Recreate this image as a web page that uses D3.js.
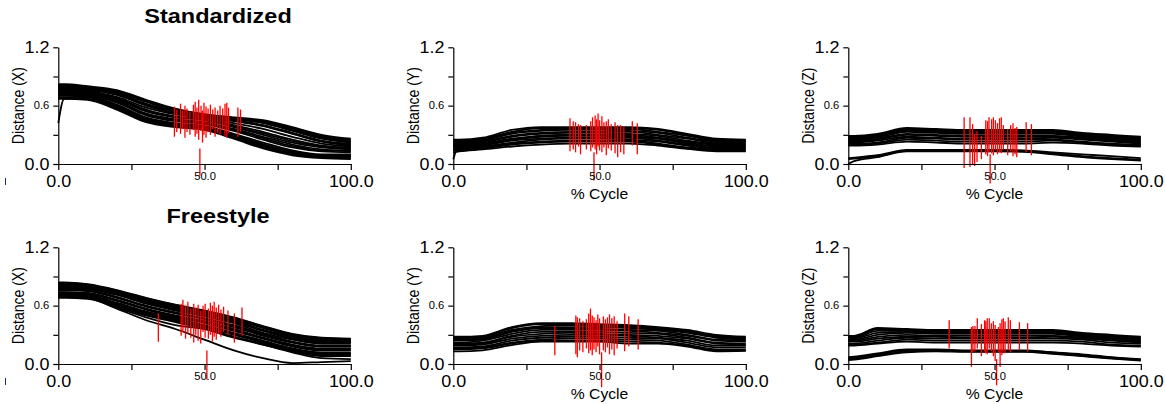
<!DOCTYPE html>
<html>
<head>
<meta charset="utf-8">
<script src="https://cdn.jsdelivr.net/npm/d3@7"></script>
<style>
  body { margin: 0; background: #fff; }
  svg text { font-family: "Liberation Sans", Arial, sans-serif; fill: #000; }
</style>
</head>
<body>
<svg id="chart"></svg>
<script>
// % of cycle where each trial value was read
const pct = [0, 2, 10, 20, 30, 40, 50, 60, 70, 80, 90, 100];

// Standardized - X
const stdX = [
    [0.82, 0.82, 0.80, 0.76, 0.66, 0.57, 0.51, 0.48, 0.45, 0.38, 0.30, 0.26],
    [0.81, 0.81, 0.79, 0.75, 0.65, 0.56, 0.51, 0.47, 0.44, 0.37, 0.29, 0.25],
    [0.805, 0.805, 0.79, 0.745, 0.645, 0.555, 0.505, 0.47, 0.435, 0.36, 0.28, 0.24],
    [0.80, 0.80, 0.79, 0.74, 0.64, 0.55, 0.50, 0.47, 0.43, 0.35, 0.27, 0.23],
    [0.79, 0.79, 0.78, 0.73, 0.62, 0.54, 0.50, 0.46, 0.42, 0.34, 0.26, 0.22],
    [0.78, 0.78, 0.77, 0.72, 0.61, 0.53, 0.49, 0.45, 0.40, 0.32, 0.24, 0.20],
    [0.775, 0.775, 0.765, 0.715, 0.605, 0.525, 0.485, 0.445, 0.395, 0.315, 0.235, 0.21],
    [0.77, 0.77, 0.76, 0.71, 0.60, 0.52, 0.48, 0.44, 0.39, 0.31, 0.23, 0.19],
    [0.76, 0.76, 0.75, 0.69, 0.58, 0.51, 0.47, 0.42, 0.36, 0.28, 0.21, 0.18],
    [0.75, 0.75, 0.74, 0.68, 0.56, 0.49, 0.46, 0.40, 0.33, 0.25, 0.19, 0.17],
    [0.745, 0.745, 0.735, 0.67, 0.55, 0.485, 0.455, 0.39, 0.315, 0.235, 0.18, 0.16],
    [0.74, 0.74, 0.73, 0.66, 0.54, 0.48, 0.45, 0.38, 0.30, 0.22, 0.17, 0.15],
    [0.73, 0.73, 0.72, 0.65, 0.52, 0.46, 0.43, 0.36, 0.28, 0.20, 0.15, 0.13],
    [0.725, 0.725, 0.715, 0.64, 0.51, 0.45, 0.42, 0.35, 0.265, 0.185, 0.14, 0.14],
    [0.72, 0.72, 0.71, 0.63, 0.50, 0.44, 0.41, 0.34, 0.25, 0.17, 0.13, 0.12],
    [0.71, 0.71, 0.70, 0.61, 0.48, 0.42, 0.39, 0.31, 0.22, 0.14, 0.10, 0.10],
    [0.705, 0.705, 0.695, 0.60, 0.47, 0.41, 0.38, 0.30, 0.205, 0.13, 0.09, 0.09],
    [0.70, 0.70, 0.69, 0.59, 0.46, 0.40, 0.37, 0.29, 0.19, 0.12, 0.08, 0.08],
    [0.685, 0.685, 0.675, 0.58, 0.45, 0.395, 0.365, 0.28, 0.18, 0.11, 0.075, 0.07],
    [0.68, 0.68, 0.67, 0.57, 0.44, 0.39, 0.36, 0.27, 0.17, 0.10, 0.07, 0.06],
    [0.67, 0.67, 0.66, 0.56, 0.43, 0.38, 0.35, 0.26, 0.16, 0.09, 0.06, 0.05],
    [0.42, 0.67, 0.68, 0.60, 0.47, 0.41, 0.38, 0.30, 0.20, 0.12, 0.09, 0.08]
];
// Standardized - Y
const stdY = [
    [0.25, 0.25, 0.27, 0.35, 0.38, 0.38, 0.38, 0.38, 0.36, 0.31, 0.26, 0.25],
    [0.24, 0.24, 0.26, 0.33, 0.37, 0.37, 0.37, 0.37, 0.35, 0.30, 0.25, 0.24],
    [0.23, 0.23, 0.25, 0.32, 0.35, 0.36, 0.36, 0.36, 0.33, 0.29, 0.24, 0.24],
    [0.22, 0.22, 0.24, 0.31, 0.34, 0.35, 0.35, 0.34, 0.32, 0.27, 0.23, 0.23],
    [0.21, 0.21, 0.23, 0.29, 0.32, 0.33, 0.33, 0.33, 0.30, 0.26, 0.22, 0.22],
    [0.20, 0.20, 0.22, 0.28, 0.31, 0.32, 0.32, 0.31, 0.29, 0.24, 0.21, 0.21],
    [0.19, 0.19, 0.21, 0.26, 0.29, 0.30, 0.30, 0.30, 0.27, 0.23, 0.20, 0.20],
    [0.18, 0.18, 0.20, 0.25, 0.28, 0.29, 0.29, 0.28, 0.26, 0.21, 0.19, 0.19],
    [0.17, 0.17, 0.19, 0.24, 0.26, 0.27, 0.27, 0.27, 0.24, 0.20, 0.17, 0.17],
    [0.16, 0.16, 0.18, 0.22, 0.25, 0.26, 0.26, 0.25, 0.23, 0.19, 0.16, 0.16],
    [0.15, 0.15, 0.17, 0.21, 0.23, 0.24, 0.24, 0.24, 0.21, 0.17, 0.15, 0.15],
    [0.14, 0.14, 0.16, 0.20, 0.22, 0.23, 0.23, 0.23, 0.20, 0.16, 0.14, 0.14],
    [0.12, 0.13, 0.15, 0.18, 0.20, 0.21, 0.21, 0.21, 0.19, 0.155, 0.13, 0.13],
    [0.05, 0.19, 0.20, 0.25, 0.29, 0.30, 0.30, 0.29, 0.26, 0.22, 0.18, 0.18]
];
// Standardized - Z
const stdZ = [
    [0.29, 0.29, 0.31, 0.37, 0.36, 0.35, 0.35, 0.35, 0.35, 0.32, 0.30, 0.28],
    [0.28, 0.28, 0.30, 0.36, 0.35, 0.34, 0.34, 0.34, 0.34, 0.31, 0.29, 0.27],
    [0.27, 0.27, 0.29, 0.35, 0.34, 0.33, 0.33, 0.33, 0.33, 0.30, 0.28, 0.26],
    [0.26, 0.26, 0.28, 0.34, 0.33, 0.32, 0.32, 0.32, 0.32, 0.29, 0.27, 0.25],
    [0.25, 0.25, 0.27, 0.33, 0.32, 0.31, 0.31, 0.31, 0.31, 0.28, 0.26, 0.24],
    [0.24, 0.24, 0.26, 0.31, 0.30, 0.29, 0.29, 0.29, 0.29, 0.27, 0.25, 0.23],
    [0.23, 0.23, 0.25, 0.30, 0.29, 0.28, 0.28, 0.28, 0.28, 0.26, 0.24, 0.22],
    [0.22, 0.22, 0.24, 0.28, 0.27, 0.26, 0.26, 0.26, 0.27, 0.25, 0.23, 0.21],
    [0.21, 0.21, 0.22, 0.27, 0.26, 0.25, 0.25, 0.25, 0.25, 0.23, 0.21, 0.20],
    [0.20, 0.20, 0.21, 0.25, 0.24, 0.23, 0.23, 0.23, 0.24, 0.22, 0.20, 0.19],
    [0.19, 0.19, 0.20, 0.23, 0.22, 0.21, 0.21, 0.21, 0.22, 0.21, 0.19, 0.18],
    [0.06, 0.065, 0.09, 0.145, 0.145, 0.145, 0.145, 0.14, 0.12, 0.10, 0.08, 0.06],
    [0.05, 0.055, 0.08, 0.135, 0.135, 0.135, 0.135, 0.13, 0.11, 0.08, 0.06, 0.045],
    [0.00, 0.03, 0.07, 0.13, 0.13, 0.13, 0.13, 0.125, 0.10, 0.07, 0.05, 0.035]
];
// Freestyle - X
const freeX = [
    [0.84, 0.84, 0.82, 0.76, 0.68, 0.61, 0.55, 0.48, 0.39, 0.31, 0.27, 0.26],
    [0.835, 0.835, 0.815, 0.755, 0.675, 0.605, 0.545, 0.475, 0.385, 0.305, 0.265, 0.255],
    [0.83, 0.83, 0.81, 0.75, 0.67, 0.60, 0.54, 0.47, 0.38, 0.30, 0.26, 0.25],
    [0.82, 0.82, 0.80, 0.74, 0.66, 0.59, 0.53, 0.46, 0.37, 0.29, 0.25, 0.24],
    [0.81, 0.81, 0.79, 0.73, 0.65, 0.58, 0.52, 0.45, 0.35, 0.28, 0.24, 0.23],
    [0.80, 0.80, 0.785, 0.725, 0.64, 0.57, 0.51, 0.44, 0.345, 0.27, 0.23, 0.225],
    [0.79, 0.79, 0.78, 0.72, 0.63, 0.56, 0.50, 0.43, 0.34, 0.26, 0.22, 0.22],
    [0.78, 0.78, 0.77, 0.71, 0.62, 0.55, 0.49, 0.42, 0.32, 0.25, 0.21, 0.21],
    [0.77, 0.77, 0.76, 0.69, 0.60, 0.53, 0.47, 0.40, 0.31, 0.23, 0.19, 0.19],
    [0.765, 0.765, 0.755, 0.685, 0.595, 0.525, 0.465, 0.39, 0.30, 0.225, 0.185, 0.185],
    [0.76, 0.76, 0.75, 0.68, 0.59, 0.52, 0.46, 0.38, 0.29, 0.22, 0.18, 0.18],
    [0.74, 0.74, 0.73, 0.66, 0.57, 0.50, 0.44, 0.36, 0.27, 0.20, 0.16, 0.16],
    [0.735, 0.735, 0.725, 0.655, 0.565, 0.49, 0.43, 0.35, 0.265, 0.19, 0.15, 0.15],
    [0.73, 0.73, 0.72, 0.65, 0.56, 0.48, 0.42, 0.34, 0.26, 0.18, 0.14, 0.14],
    [0.72, 0.72, 0.71, 0.63, 0.54, 0.47, 0.40, 0.32, 0.24, 0.16, 0.12, 0.12],
    [0.71, 0.71, 0.70, 0.62, 0.53, 0.46, 0.39, 0.31, 0.23, 0.155, 0.11, 0.11],
    [0.70, 0.70, 0.69, 0.61, 0.52, 0.45, 0.38, 0.30, 0.22, 0.15, 0.10, 0.10],
    [0.69, 0.69, 0.68, 0.60, 0.51, 0.44, 0.37, 0.28, 0.21, 0.14, 0.09, 0.09],
    [0.68, 0.68, 0.67, 0.59, 0.50, 0.43, 0.36, 0.27, 0.20, 0.13, 0.08, 0.08],
    [0.69, 0.69, 0.68, 0.58, 0.48, 0.40, 0.36, 0.28, 0.20, 0.12, 0.06, 0.05],
    [0.70, 0.70, 0.68, 0.57, 0.45, 0.36, 0.25, 0.14, 0.06, 0.01, 0.02, 0.03]
];
// Freestyle - Y
const freeY = [
    [0.28, 0.28, 0.29, 0.38, 0.42, 0.42, 0.41, 0.40, 0.38, 0.35, 0.30, 0.28],
    [0.27, 0.27, 0.28, 0.37, 0.41, 0.41, 0.40, 0.39, 0.37, 0.34, 0.29, 0.27],
    [0.26, 0.26, 0.27, 0.35, 0.39, 0.40, 0.39, 0.38, 0.36, 0.33, 0.28, 0.26],
    [0.25, 0.25, 0.26, 0.34, 0.38, 0.38, 0.38, 0.37, 0.35, 0.32, 0.27, 0.25],
    [0.24, 0.24, 0.25, 0.33, 0.37, 0.37, 0.36, 0.35, 0.34, 0.30, 0.25, 0.24],
    [0.22, 0.22, 0.24, 0.31, 0.35, 0.35, 0.35, 0.34, 0.32, 0.29, 0.24, 0.23],
    [0.21, 0.21, 0.22, 0.29, 0.33, 0.33, 0.33, 0.32, 0.31, 0.27, 0.22, 0.21],
    [0.20, 0.20, 0.21, 0.28, 0.31, 0.32, 0.31, 0.30, 0.29, 0.26, 0.21, 0.20],
    [0.19, 0.19, 0.20, 0.26, 0.29, 0.30, 0.30, 0.29, 0.27, 0.24, 0.19, 0.19],
    [0.17, 0.17, 0.18, 0.24, 0.27, 0.28, 0.28, 0.27, 0.26, 0.22, 0.17, 0.17],
    [0.16, 0.16, 0.17, 0.22, 0.25, 0.26, 0.26, 0.25, 0.24, 0.20, 0.15, 0.15],
    [0.15, 0.15, 0.16, 0.21, 0.24, 0.24, 0.24, 0.23, 0.22, 0.19, 0.14, 0.14],
    [0.13, 0.13, 0.14, 0.195, 0.23, 0.23, 0.23, 0.21, 0.21, 0.18, 0.13, 0.135]
];
// Freestyle - Z
const freeZ = [
    [0.29, 0.29, 0.37, 0.36, 0.35, 0.35, 0.35, 0.35, 0.35, 0.32, 0.30, 0.28],
    [0.28, 0.28, 0.36, 0.35, 0.34, 0.34, 0.34, 0.34, 0.34, 0.31, 0.29, 0.27],
    [0.27, 0.27, 0.34, 0.34, 0.33, 0.33, 0.33, 0.33, 0.33, 0.30, 0.28, 0.26],
    [0.26, 0.26, 0.32, 0.33, 0.32, 0.32, 0.32, 0.32, 0.32, 0.29, 0.27, 0.25],
    [0.25, 0.25, 0.30, 0.32, 0.31, 0.31, 0.31, 0.31, 0.31, 0.28, 0.26, 0.24],
    [0.24, 0.24, 0.28, 0.30, 0.29, 0.29, 0.29, 0.29, 0.29, 0.27, 0.25, 0.23],
    [0.23, 0.23, 0.26, 0.28, 0.28, 0.27, 0.27, 0.27, 0.28, 0.26, 0.24, 0.22],
    [0.21, 0.21, 0.24, 0.27, 0.26, 0.26, 0.26, 0.26, 0.26, 0.25, 0.22, 0.21],
    [0.20, 0.20, 0.22, 0.25, 0.24, 0.24, 0.24, 0.24, 0.24, 0.23, 0.20, 0.19],
    [0.19, 0.19, 0.21, 0.23, 0.22, 0.22, 0.22, 0.22, 0.22, 0.21, 0.19, 0.18],
    [0.07, 0.075, 0.11, 0.15, 0.15, 0.14, 0.14, 0.14, 0.12, 0.10, 0.07, 0.05],
    [0.06, 0.065, 0.10, 0.14, 0.145, 0.135, 0.135, 0.135, 0.12, 0.09, 0.065, 0.045],
    [0.05, 0.055, 0.09, 0.13, 0.14, 0.13, 0.13, 0.13, 0.11, 0.085, 0.06, 0.04],
    [0.04, 0.045, 0.08, 0.12, 0.13, 0.125, 0.125, 0.125, 0.105, 0.08, 0.055, 0.035]
];

// red event markers: [% cycle, low, high]
const stdXEvents = [
    [39.7, 0.28, 0.59], [40.5, 0.33, 0.56], [41.8, 0.31, 0.62], [42.5, 0.36, 0.55],
    [43.3, 0.27, 0.60], [44.0, 0.33, 0.57], [45.0, 0.30, 0.54], [46.2, 0.35, 0.61],
    [46.8, 0.28, 0.64], [47.4, 0.31, 0.58], [48.0, 0.25, 0.66], [48.4, -0.12, 0.16],
    [48.8, 0.34, 0.60], [49.3, 0.22, 0.55], [49.8, 0.30, 0.63], [50.5, 0.27, 0.59],
    [51.2, 0.33, 0.57], [52.0, 0.30, 0.61], [52.8, 0.36, 0.56], [53.6, 0.28, 0.58],
    [54.5, 0.32, 0.55], [55.3, 0.30, 0.60], [56.2, 0.35, 0.57], [57.0, 0.29, 0.62],
    [57.6, 0.27, 0.63], [58.2, 0.32, 0.58], [61.4, 0.28, 0.58], [62.3, 0.33, 0.56]
];
const stdYEvents = [
    [39.9, 0.13, 0.47], [41.0, 0.15, 0.44], [41.8, 0.12, 0.43], [42.8, 0.18, 0.41],
    [43.5, 0.10, 0.40], [45.5, 0.15, 0.40], [47.0, 0.13, 0.44], [47.6, 0.17, 0.48],
    [48.1, -0.17, 0.12], [48.5, 0.15, 0.50], [49.0, 0.10, 0.46], [49.5, 0.18, 0.52],
    [50.0, 0.14, 0.45], [50.8, 0.12, 0.49], [51.5, 0.17, 0.43], [52.3, 0.09, 0.44],
    [53.0, 0.16, 0.46], [54.0, 0.14, 0.41], [55.3, 0.11, 0.43], [56.2, 0.07, 0.40],
    [57.2, 0.12, 0.40], [58.3, 0.10, 0.38], [61.2, 0.19, 0.44], [62.9, 0.10, 0.42]
];
const stdZEvents = [
    [39.6, -0.04, 0.48], [41.6, -0.03, 0.48], [42.5, 0.00, 0.41], [43.2, -0.02, 0.30],
    [44.0, 0.02, 0.34], [45.5, 0.05, 0.29], [47.0, 0.10, 0.45], [47.6, 0.08, 0.44],
    [48.1, 0.12, 0.48], [48.5, -0.20, 0.10], [49.0, 0.11, 0.46], [49.6, 0.09, 0.48],
    [50.3, 0.14, 0.45], [51.0, 0.10, 0.42], [51.7, 0.12, 0.47], [52.3, 0.11, 0.48],
    [53.0, 0.15, 0.40], [54.5, 0.09, 0.36], [55.5, 0.13, 0.40], [56.3, 0.08, 0.42],
    [57.0, 0.10, 0.37], [57.6, 0.07, 0.38], [60.8, 0.12, 0.43], [62.6, 0.09, 0.41]
];
const freeXEvents = [
    [34.2, 0.23, 0.52], [42.0, 0.29, 0.62], [42.6, 0.33, 0.66], [43.5, 0.26, 0.60],
    [44.3, 0.31, 0.64], [45.3, 0.27, 0.57], [46.3, 0.22, 0.62], [47.0, 0.30, 0.58],
    [47.8, 0.24, 0.61], [48.7, 0.21, 0.55], [49.5, 0.33, 0.60], [50.2, 0.27, 0.62],
    [50.8, -0.16, 0.14], [51.3, 0.26, 0.57], [52.0, 0.30, 0.63], [52.7, 0.23, 0.60],
    [53.3, 0.28, 0.64], [54.0, 0.25, 0.58], [54.8, 0.31, 0.61], [55.6, 0.28, 0.56],
    [56.5, 0.33, 0.59], [58.0, 0.30, 0.55], [60.2, 0.22, 0.52], [62.8, 0.29, 0.58]
];
const freeYEvents = [
    [34.7, 0.09, 0.39], [41.9, 0.10, 0.50], [42.4, 0.07, 0.48], [43.2, 0.14, 0.47],
    [44.3, 0.12, 0.44], [45.5, 0.16, 0.46], [46.3, 0.11, 0.52], [46.9, 0.14, 0.57],
    [47.5, 0.09, 0.50], [48.1, 0.15, 0.48], [48.8, 0.12, 0.45], [49.4, 0.18, 0.51],
    [50.0, 0.10, 0.47], [50.7, -0.24, 0.12], [51.3, 0.14, 0.49], [52.0, 0.12, 0.46],
    [52.7, 0.17, 0.48], [53.4, 0.10, 0.51], [54.2, 0.15, 0.47], [55.0, 0.09, 0.49],
    [56.0, 0.16, 0.44], [58.6, 0.13, 0.52], [60.0, 0.18, 0.49], [63.2, 0.15, 0.46]
];
const freeZEvents = [
    [34.5, 0.16, 0.45], [42.1, -0.03, 0.38], [42.6, 0.12, 0.39], [43.3, 0.13, 0.39],
    [44.1, 0.16, 0.47], [45.5, 0.08, 0.41], [46.6, 0.13, 0.45], [47.0, 0.11, 0.44],
    [47.5, 0.10, 0.47], [48.2, 0.16, 0.47], [48.9, 0.13, 0.42], [49.6, 0.08, 0.44],
    [50.2, 0.03, 0.40], [50.7, -0.22, 0.05], [51.3, 0.12, 0.38], [51.9, -0.03, 0.42],
    [52.5, 0.09, 0.46], [53.0, 0.13, 0.47], [53.6, 0.11, 0.44], [54.7, 0.14, 0.48],
    [55.4, 0.12, 0.45], [58.5, 0.14, 0.43], [61.3, 0.13, 0.42]
];

// ticks
const xTicks = [0, 25, 50, 75, 100];
const xTickLabels = {0: "0.0", 50: "50.0", 100: "100.0"};
const yTicks = [0, 0.3, 0.6, 0.9, 1.2];
const yTickLabels = {0: "0.0", 0.6: "0.6", 1.2: "1.2"};
const rowTitles = ["Standardized", "Freestyle"];
const axisNames = ["Distance (X)", "Distance (Y)", "Distance (Z)"];

const panels = [
    {row: 0, col: 0, curves: stdX, events: stdXEvents},
    {row: 0, col: 1, curves: stdY, events: stdYEvents},
    {row: 0, col: 2, curves: stdZ, events: stdZEvents},
    {row: 1, col: 0, curves: freeX, events: freeXEvents},
    {row: 1, col: 1, curves: freeY, events: freeYEvents},
    {row: 1, col: 2, curves: freeZ, events: freeZEvents}
];

// layout
let width = 1165, height = 404;
let colLeft = [58.3, 453.3, 848.3];
let rowTop = [47.3, 247.3];
let plotW = 292.5, plotH = 116.7;
let stretch = 1.12; // the original lettering is slightly wide

let svg = d3.select("#chart")
    .attr("width", width)
    .attr("height", height)
    .style("background", "#fff");

let xScale = d3.scaleLinear().domain([0, 100]).range([0, plotW]);
let yScale = d3.scaleLinear().domain([0, 1.2]).range([plotH, 0]);

let line = d3.line()
    .x((d, i) => xScale(pct[i]))
    .y(d => yScale(d))
    .curve(d3.curveMonotoneX);

panels.forEach(p => {
    let g = svg.append("g")
        .attr("transform", `translate(${colLeft[p.col]},${rowTop[p.row]})`);

    g.selectAll(".trial")
        .data(p.curves)
        .enter()
        .append("path")
        .attr("class", "trial")
        .attr("d", line)
        .attr("fill", "none")
        .attr("stroke", "#000")
        .attr("stroke-width", 1.8);

    g.selectAll(".event")
        .data(p.events)
        .enter()
        .append("line")
        .attr("class", "event")
        .attr("x1", d => xScale(d[0]))
        .attr("x2", d => xScale(d[0]))
        .attr("y1", d => yScale(d[1]))
        .attr("y2", d => yScale(d[2]))
        .attr("stroke", "#ff0000")
        .attr("stroke-width", 1.3);

    // axes
    let yAx = d3.axisLeft(yScale)
        .tickValues(yTicks)
        .tickSize(5)
        .tickSizeOuter(0)
        .tickFormat(d => yTickLabels[d] || "");
    let yG = g.append("g").call(yAx);
    yG.selectAll("text")
        .attr("x", -8)
        .style("font-size", d => d === 0.6 ? "10px" : "16px")
        .attr("transform", `scale(${stretch},1)`);

    let xAx = d3.axisBottom(xScale)
        .tickValues(xTicks)
        .tickSize(6)
        .tickSizeOuter(0)
        .tickFormat(d => xTickLabels[d] || "");
    let xG = g.append("g")
        .attr("transform", `translate(0,${plotH})`)
        .call(xAx);
    xG.selectAll("text")
        .attr("y", d => d === 50 ? 9 : 12)
        .style("font-size", d => d === 50 ? "10px" : "16px")
        .attr("transform", `scale(${stretch},1)`);

    g.selectAll(".domain, .tick line").attr("stroke", "#000").attr("stroke-width", 1.2);

    g.append("text")
        .attr("transform", `translate(-34,${plotH / 2}) scale(${stretch},1) rotate(-90)`)
        .attr("text-anchor", "middle")
        .style("font-size", "14px")
        .text(axisNames[p.col]);

    if (p.col > 0) {
        g.append("text")
            .attr("transform", `translate(${plotW / 2},${plotH + 35}) scale(${stretch},1)`)
            .attr("text-anchor", "middle")
            .style("font-size", "14px")
            .text("% Cycle");
    }
});

rowTitles.forEach((t, i) => {
    svg.append("text")
        .attr("transform", `translate(218,${23 + i * 200}) scale(${stretch},1)`)
        .attr("text-anchor", "middle")
        .style("font-size", "21px")
        .style("font-weight", "bold")
        .text(t);
});

// small stray marks at the left edge of the original figure
[0, 200].forEach(off => {
    svg.append("line")
        .attr("x1", 5.5).attr("x2", 5.5)
        .attr("y1", 178 + off).attr("y2", 185 + off)
        .attr("stroke", "#1f2f6a")
        .attr("stroke-width", 1);
});
</script>
</body>
</html>
